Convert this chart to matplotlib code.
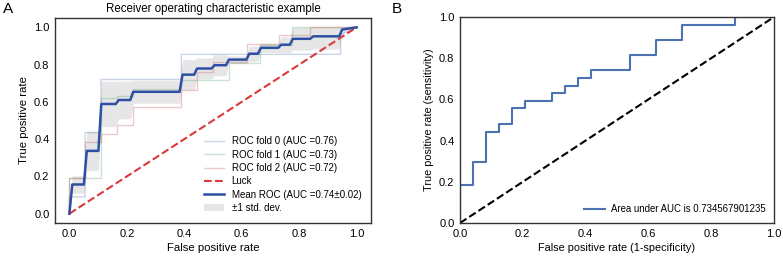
import numpy as np
import matplotlib
matplotlib.use("Agg")
import matplotlib.pyplot as plt

plt.rcParams['font.family'] = ['Liberation Sans', 'DejaVu Sans']

# ---- Panel A data: per-fold ROC step curves ----
fold0_fpr = [0.0, 0.0, 0.055, 0.055, 0.11, 0.11, 0.39, 0.39, 0.944, 0.944, 1.0]
fold0_tpr = [0.0, 0.09, 0.09, 0.435, 0.435, 0.72, 0.72, 0.855, 0.855, 0.96, 1.0]

fold1_fpr = [0.0, 0.0, 0.11, 0.11, 0.166, 0.166, 0.22, 0.22, 0.39, 0.39, 0.555, 0.555,
             0.665, 0.665, 0.776, 0.776, 1.0]
fold1_tpr = [0.0, 0.19, 0.19, 0.62, 0.62, 0.634, 0.634, 0.67, 0.67, 0.72, 0.72, 0.81,
             0.81, 0.905, 0.905, 1.0, 1.0]

fold2_fpr = [0.0, 0.0, 0.055, 0.055, 0.11, 0.11, 0.166, 0.166, 0.22, 0.22, 0.39, 0.39,
             0.443, 0.443, 0.5, 0.5, 0.617, 0.617, 0.729, 0.729, 0.839, 0.839, 1.0]
fold2_tpr = [0.0, 0.19, 0.19, 0.386, 0.386, 0.426, 0.426, 0.476, 0.476, 0.572, 0.572, 0.663,
             0.663, 0.762, 0.762, 0.815, 0.815, 0.91, 0.91, 0.96, 0.96, 1.0, 1.0]

fold_labels = ['ROC fold 0 (AUC =0.76)', 'ROC fold 1 (AUC =0.73)', 'ROC fold 2 (AUC =0.72)']
mean_label = 'Mean ROC (AUC =0.74\u00b10.02)'

# ---- Panel B data ----
b_fpr = [0.0, 0.0, 0.0417, 0.0417, 0.0833, 0.0833, 0.125, 0.125, 0.1667, 0.1667,
         0.2083, 0.2083, 0.2917, 0.2917, 0.3333, 0.3333, 0.375, 0.375, 0.4167, 0.4167,
         0.5417, 0.5417, 0.625, 0.625, 0.7083, 0.7083, 0.875, 0.875, 1.0]
b_tpr = [0.0, 0.185, 0.185, 0.296, 0.296, 0.444, 0.444, 0.481, 0.481, 0.556,
         0.556, 0.593, 0.593, 0.630, 0.630, 0.667, 0.667, 0.704, 0.704, 0.741,
         0.741, 0.815, 0.815, 0.889, 0.889, 0.963, 0.963, 1.0, 1.0]
b_label = 'Area under AUC is 0.734567901235'

W, H = 783, 259
fig = plt.figure(figsize=(W / 100, H / 100), dpi=100)

axA = fig.add_axes([55 / W, 1 - 223 / H, (371 - 55) / W, (223 - 18) / H])
axB = fig.add_axes([460 / W, 1 - 223 / H, (774 - 460) / W, (223 - 17) / H])

fold_colors = ['#4C72B0', '#55A868', '#C44E52']
folds = [(fold0_fpr, fold0_tpr), (fold1_fpr, fold1_tpr), (fold2_fpr, fold2_tpr)]
mean_fpr = np.linspace(0, 1, 100)
tprs = []
for (f, t), c, lab in zip(folds, fold_colors, fold_labels):
    axA.plot(f, t, lw=1, alpha=0.3, color=c, label=lab)
    it = np.interp(mean_fpr, f, t)
    it[0] = 0.0
    tprs.append(it)

axA.plot([0, 1], [0, 1], linestyle='--', lw=1.5, color='#d93b3b', label='Luck')
mean_tpr = np.mean(tprs, axis=0)
mean_tpr[-1] = 1.0
std_tpr = np.std(tprs, axis=0)
axA.plot(mean_fpr, mean_tpr, color='#2f4fa3', lw=1.8, label=mean_label)
axA.fill_between(mean_fpr, np.maximum(mean_tpr - std_tpr, 0), np.minimum(mean_tpr + std_tpr, 1),
                 color='#cfcfcf', alpha=0.5, lw=0, label='\u00b11 std. dev.')
axA.set_xlim(-0.05, 1.05)
axA.set_ylim(-0.05, 1.05)
axA.set_xticks([0, 0.2, 0.4, 0.6, 0.8, 1.0])
axA.set_yticks([0, 0.2, 0.4, 0.6, 0.8, 1.0])
axA.set_xlabel('False positive rate', fontsize=8.2, labelpad=3)
axA.set_ylabel('True positive rate', fontsize=8.2, labelpad=4)
axA.set_title('Receiver operating characteristic example', fontsize=8.3, pad=4)
axA.legend(loc='lower right', fontsize=7, frameon=False, handlelength=2.0,
           handletextpad=0.8, labelspacing=0.35, borderaxespad=0.6)

axB.plot(b_fpr, b_tpr, color='#4C72B0', lw=1.5, label=b_label)
axB.plot([0, 1], [0, 1], linestyle='--', lw=1.5, color='black')
axB.set_xlim(0, 1)
axB.set_ylim(0, 1)
axB.set_xticks([0, 0.2, 0.4, 0.6, 0.8, 1.0])
axB.set_yticks([0, 0.2, 0.4, 0.6, 0.8, 1.0])
axB.set_xlabel('False positive rate (1-specificity)', fontsize=7.8, labelpad=3)
axB.set_ylabel('True positive rate (sensitivity)', fontsize=7.8, labelpad=4)
axB.legend(loc='lower right', fontsize=6.9, frameon=False, handlelength=2.2,
           handletextpad=0.6, borderaxespad=0.5)

for ax in (axA, axB):
    ax.tick_params(length=0, labelsize=8, pad=4)
    for s in ax.spines.values():
        s.set_color('#333333')
        s.set_linewidth(1.0)

fig.text(3 / W, 1 - 9 / H, 'A', fontsize=11, va='center', ha='left')
fig.text(392 / W, 1 - 9 / H, 'B', fontsize=11, va='center', ha='left')

fig.savefig('out.png', dpi=100)
